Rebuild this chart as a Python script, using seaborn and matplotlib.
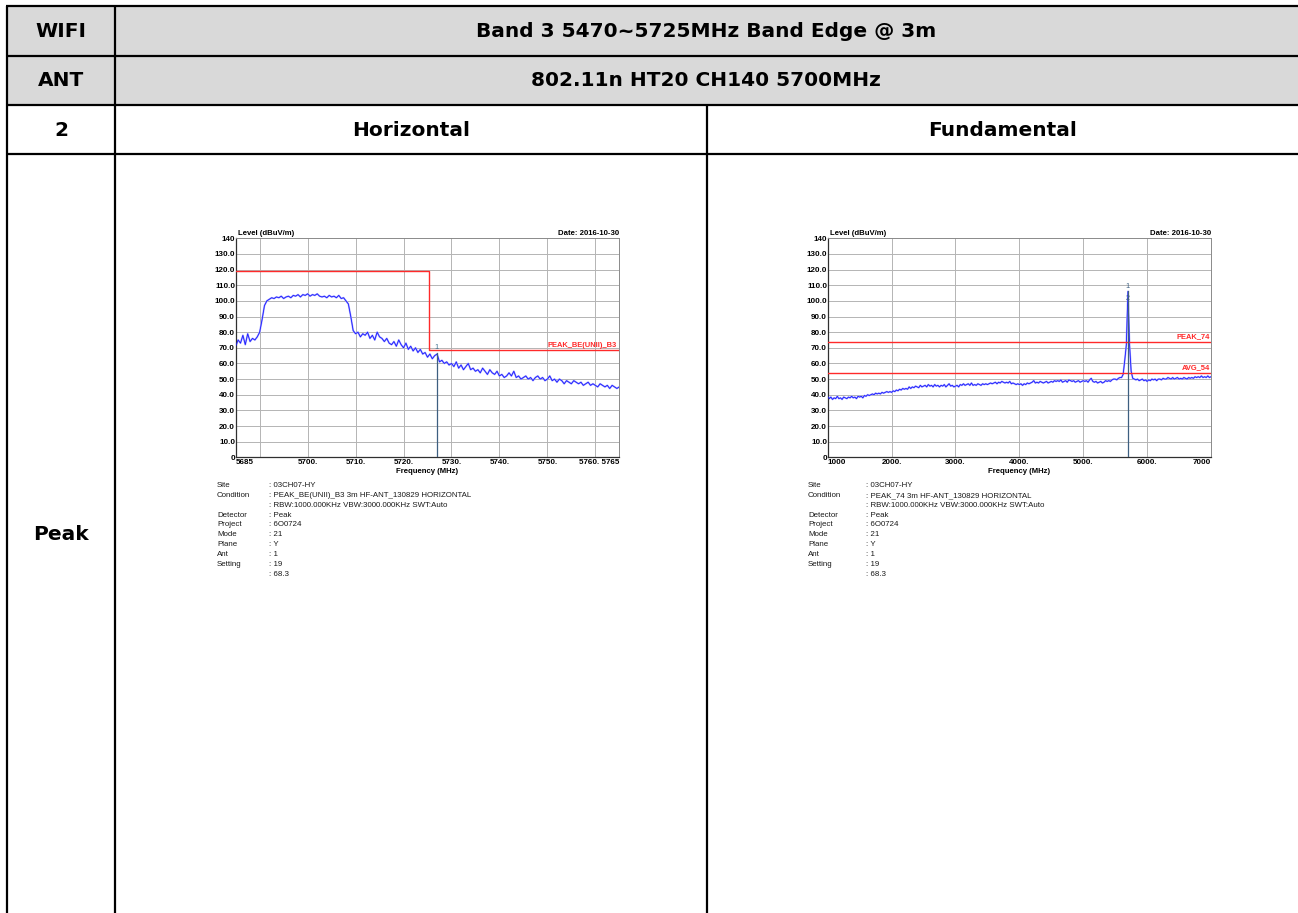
import numpy as np
import matplotlib
matplotlib.use("Agg")
import matplotlib.pyplot as plt
import seaborn as sns

# ---------------- data ----------------
header_rows = [("WIFI", "Band 3 5470~5725MHz Band Edge @ 3m"),
               ("ANT", "802.11n HT20 CH140 5700MHz")]
col_titles = ("2", "Horizontal", "Fundamental")
row_title = "Peak"

# Left chart: band edge, 5685-5765 MHz sampled every 0.5 MHz
band_start, band_step = 5685.0, 0.5
band_level = [
    71, 75, 73, 78, 72, 79, 74, 76, 75, 77,
    80, 88, 97, 100, 101, 102, 101.5, 102.5, 102, 103,
    101.5, 102.5, 103, 102, 103.5, 103, 104, 102.5, 104, 103.5,
    104.5, 103, 104, 103.5, 104.5, 103, 102.5, 103, 102, 103.5,
    102.5, 103, 102, 103.5, 101.5, 102, 100, 98, 90, 81,
    79, 80, 77, 79, 78, 80, 76, 78, 75, 80,
    77, 76, 74, 76, 73, 72, 74, 71, 75, 72,
    70, 73, 69, 71, 68, 70, 67, 69, 66, 67,
    64, 66, 63, 65, 66, 61, 62, 60, 61, 59,
    60, 58, 61, 57, 59, 56, 58, 60, 56, 57,
    55, 56, 54, 57, 55, 53, 56, 54, 53, 55,
    52, 53, 51, 52, 54, 52, 55, 51, 52, 50,
    51, 52, 50, 51, 49, 51, 52, 50, 51, 49,
    50, 52, 49, 50, 48, 50, 49, 47, 49, 48,
    47, 49, 48, 47, 48, 46, 47, 48, 46, 47,
    46, 45, 47, 46, 45, 46, 44, 46, 45, 44,
    45,
]
band_limit_freq = [5685, 5725.3, 5725.3, 5765]
band_limit_level = [119, 119, 68.3, 68.3]
band_limit_name = "PEAK_BE(UNII)_B3"
band_marker_freq = 5726.9
band_marker_level = 66.5
band_xticks = [5685, 5700, 5710, 5720, 5730, 5740, 5750, 5765]
band_xlabels = ["5685", "5700.", "5710.", "5720.", "5730.", "5740.", "5750.", "5760. 5765"]
band_xgrid = [5690, 5700, 5710, 5720, 5730, 5740, 5750, 5760]

# Right chart: fundamental, 1000-7000 MHz sampled every 25 MHz
fund_start, fund_step = 1000.0, 25.0
fund_level = [
    39, 37.5, 38.5, 37, 38, 37.5, 39, 37.5, 38, 37, 38.5, 38,
    37.5, 38.5, 38, 39, 38, 38.5, 37.5, 39, 38.5, 39, 38, 39.5,
    39, 40, 39.5, 40, 40.5, 40, 41, 40.5, 41, 40.5, 41.5, 41,
    41.5, 42, 41.5, 42, 41.5, 42.5, 42, 43, 42.5, 43.5, 43, 44,
    43.5, 44, 43.5, 45, 44, 45, 44.5, 45.5, 45, 44.5, 46, 45,
    45.5, 46, 45, 46.5, 45.5, 46, 45, 46.5, 45.5, 46, 45, 46,
    45.5, 46.5, 45, 46, 47, 45.5, 46, 45, 45.5, 46, 45, 46.5,
    46, 47, 46, 46.5, 47, 46, 47.5, 46, 46.5, 46, 47, 46.5,
    46, 47, 46.5, 47, 46.5, 47, 47.5, 47, 47.5, 48, 47, 48,
    47.5, 48.5, 48, 47.5, 48, 47.5, 48.5, 47, 47.5, 47, 46.5, 47,
    46.5, 47, 46, 47, 46.5, 47.5, 47, 47.5, 48, 49, 47.5, 48,
    47.5, 48.5, 48, 47.5, 48, 48.5, 47.5, 48, 48.5, 48, 49, 48.5,
    49, 48.5, 49.5, 48, 48.5, 49, 48, 49.5, 49, 48.5, 49, 48,
    48.5, 49, 48, 48.5, 49, 48.5, 49, 48, 49.5, 50.5, 48.5, 48,
    48.5, 47.5, 48, 48.5, 47.5, 48, 49, 48.5, 49, 48.5, 49.5, 50,
    50, 49.5, 50.5, 51, 51, 53, 62, 72, 106, 72, 55, 50.5,
    50, 49.5, 50, 49, 49.5, 50, 49, 49.5, 48.5, 49.5, 49, 50,
    49.5, 50, 49, 50, 50, 49.5, 50.5, 50, 50, 51, 50.5, 50,
    51, 50, 50.5, 51, 50, 50.5, 50, 51, 50.5, 50, 51, 50.5,
    51, 50.5, 51.5, 51, 51.5, 51, 52, 51, 51.5, 51, 52, 51,
    51.5,
]
fund_limits = [("PEAK_74", 74.0), ("AVG_54", 54.0)]
fund_marker_freq = 5700
fund_marker_level = 106
fund_xticks = [1000, 2000, 3000, 4000, 5000, 6000, 7000]
fund_xlabels = ["1000", "2000.", "3000.", "4000.", "5000.", "6000.", "7000"]
fund_xgrid = [2000, 3000, 4000, 5000, 6000]

ytick_vals = [0, 10, 20, 30, 40, 50, 60, 70, 80, 90, 100, 110, 120, 130, 140]
ytick_labels = ["0"] + [f"{v:.1f}" for v in ytick_vals[1:-1]] + ["140"]

info_keys = ["Site", "Condition", "", "Detector", "Project", "Mode", "Plane", "Ant", "Setting", ""]
info_left = ["03CH07-HY", "PEAK_BE(UNII)_B3 3m HF-ANT_130829 HORIZONTAL",
             "RBW:1000.000KHz VBW:3000.000KHz SWT:Auto", "Peak", "6O0724",
             "21", "Y", "1", "19", "68.3"]
info_right = ["03CH07-HY", "PEAK_74 3m HF-ANT_130829 HORIZONTAL",
              "RBW:1000.000KHz VBW:3000.000KHz SWT:Auto", "Peak", "6O0724",
              "21", "Y", "1", "19", "68.3"]
date_text = "Date: 2016-10-30"

band_freq = band_start + band_step * np.arange(len(band_level))
fund_freq = fund_start + fund_step * np.arange(len(fund_level))

# ---------------- figure ----------------
W, H = 1298, 913
fig = plt.figure(figsize=(W / 100, H / 100), dpi=100)
plt.rcParams["font.family"] = ["Liberation Sans", "DejaVu Sans"]

bg = fig.add_axes([0, 0, 1, 1])
bg.set_xlim(0, W)
bg.set_ylim(H, 0)
bg.axis("off")

lw_tab = 1.6
bg.fill_between([7, W], 7, 105, color="#d9d9d9", lw=0)
for y in [6.5, 56, 105, 154]:
    bg.plot([6, W], [y, y], color="black", lw=lw_tab, solid_capstyle="butt")
bg.plot([7, 7], [6, H], color="black", lw=lw_tab, solid_capstyle="butt")
bg.plot([115, 115], [6, H], color="black", lw=lw_tab, solid_capstyle="butt")
bg.plot([707, 707], [105, H], color="black", lw=lw_tab, solid_capstyle="butt")

hfont = dict(fontsize=14.5, fontweight="bold", ha="center", va="center", color="black",
             family="DejaVu Sans")
for (a, b), yc in zip(header_rows, [31.5, 80.5]):
    bg.text(61, yc, a, **hfont)
    bg.text(706, yc, b, **hfont)
bg.text(61, 130, col_titles[0], **hfont)
bg.text(411, 130, col_titles[1], **hfont)
bg.text(1003, 130, col_titles[2], **hfont)
bg.text(61, 535, row_title, **hfont)

# info blocks
for x0, xc, vals in [(217, 269, info_left), (808, 866, info_right)]:
    for i, (k, v) in enumerate(zip(info_keys, vals)):
        yy = 485.5 + i * 9.85
        if k:
            bg.text(x0, yy, k, fontsize=5.7, va="center", ha="left", color="#1a1a1a")
        bg.text(xc, yy, ": " + v, fontsize=5.7, va="center", ha="left", color="#1a1a1a")


def setup_axes(ax, xlim, xticks, xlabels, xgrid):
    ax.set_xlim(*xlim)
    ax.set_ylim(0, 140)
    ax.set_xticks(xticks)
    ax.set_xticklabels(xlabels)
    ax.set_yticks(ytick_vals)
    ax.set_yticklabels(ytick_labels)
    ax.grid(False)
    for gx in xgrid:
        ax.axvline(gx, color="#b4b4b4", lw=0.7, zorder=1)
    for gy in ytick_vals[1:-1]:
        ax.axhline(gy, color="#b4b4b4", lw=0.7, zorder=1)
    ax.tick_params(which="both", length=0)
    ax.tick_params(axis="y", pad=0.5, labelsize=5.8)
    ax.tick_params(axis="x", pad=1.5, labelsize=5.8)
    for lab in ax.get_xticklabels() + ax.get_yticklabels():
        lab.set_fontweight("bold")
    xl = ax.get_xticklabels()
    xl[0].set_ha("left")
    xl[-1].set_ha("right")
    for s in ["left", "bottom"]:
        ax.spines[s].set_color("#303030")
        ax.spines[s].set_linewidth(0.9)
    for s in ["top", "right"]:
        ax.spines[s].set_color("#8a8a8a")
        ax.spines[s].set_linewidth(0.7)
    ax.set_xlabel("Frequency (MHz)", fontsize=5.6, fontweight="bold", labelpad=1)
    ax.set_ylabel("")
    ax.text(0.005, 1.004, "Level (dBuV/m)", transform=ax.transAxes, fontsize=5.6,
            fontweight="bold", ha="left", va="bottom")
    ax.text(1.0, 1.004, date_text, transform=ax.transAxes, fontsize=5.6,
            fontweight="bold", ha="right", va="bottom")


ax1 = fig.add_axes([235.7 / W, 1 - 457.3 / H, 383.6 / W, 219 / H])
ax2 = fig.add_axes([827.7 / W, 1 - 457.3 / H, 383.3 / W, 219 / H])

red = "#ff2a2a"
# left chart
sns.lineplot(x=band_freq, y=band_level, ax=ax1, color="#a8a8ff", lw=1.3, zorder=2)
sns.lineplot(x=band_freq, y=band_level, ax=ax1, color="#1a1aff", lw=0.6, zorder=3)
ax1.plot(band_limit_freq, band_limit_level, color=red, lw=1.0, zorder=4)
ax1.text(5764.5, band_limit_level[-1] + 0.8, band_limit_name, color=red,
         fontsize=5.4, fontweight="bold", ha="right", va="bottom")
ax1.plot([band_marker_freq, band_marker_freq], [0, band_marker_level], color="#3d5f80", lw=0.9, zorder=5)
ax1.text(band_marker_freq, band_marker_level + 1.5, "1", color="#3d6f8f", fontsize=5.2,
         ha="center", va="bottom")
setup_axes(ax1, (band_start, 5765), band_xticks, band_xlabels, band_xgrid)

# right chart
sns.lineplot(x=fund_freq, y=fund_level, ax=ax2, color="#a8a8ff", lw=1.3, zorder=2)
sns.lineplot(x=fund_freq, y=fund_level, ax=ax2, color="#1a1aff", lw=0.6, zorder=3)
for name, lvl in fund_limits:
    ax2.axhline(lvl, color=red, lw=1.0, zorder=4)
    ax2.text(6985, lvl + 0.8, name, color=red, fontsize=5.4, fontweight="bold",
             ha="right", va="bottom")
ax2.plot([fund_marker_freq, fund_marker_freq], [0, fund_marker_level], color="#3d5f80", lw=0.9, zorder=5)
ax2.text(fund_marker_freq, fund_marker_level + 1.0, "1", color="#3d5f80", fontsize=5.2,
         ha="center", va="bottom")
ax2.text(fund_marker_freq, fund_marker_level - 6.5, "2", color="#3d5f80", fontsize=5.2,
         ha="center", va="bottom")
setup_axes(ax2, (fund_start, 7000), fund_xticks, fund_xlabels, fund_xgrid)

fig.savefig("out.png", dpi=100)
